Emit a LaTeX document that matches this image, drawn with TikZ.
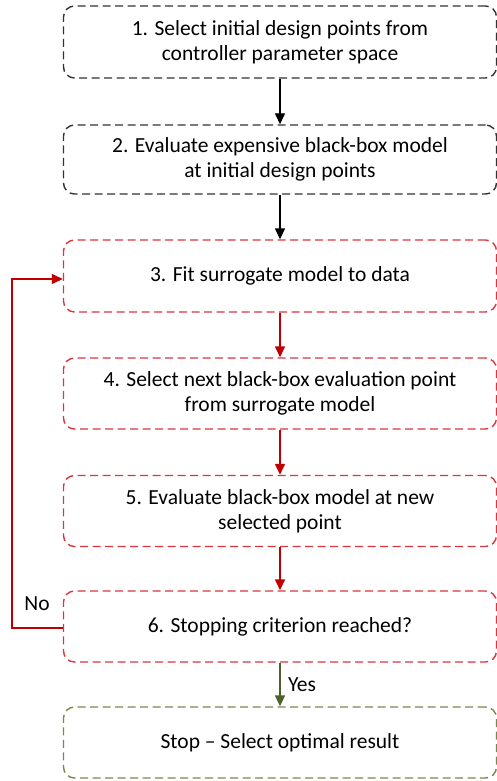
\documentclass[tikz,border=0pt]{standalone}
\usepackage{fontspec}
\setmainfont{Carlito}
\usetikzlibrary{arrows.meta}
\definecolor{boxred}{HTML}{D9363E}
\definecolor{arrred}{HTML}{C00000}
\definecolor{boxgreen}{HTML}{76894A}
\definecolor{arrgreen}{HTML}{4F6228}
\definecolor{boxblack}{HTML}{333333}
\begin{document}
\begin{tikzpicture}[x=1pt,y=-1pt,
  txt/.style={font=\fontsize{21.5}{25}\selectfont, text=black},
  stepbox/.style={line width=1.4pt, dash pattern=on 8pt off 4.5pt, rounded corners=11pt,
    minimum width=433pt, align=center, txt, inner sep=0pt},
  arr/.style={-{Triangle[length=11pt,width=10pt]}, line width=1.4pt}
]
\useasboundingbox (0,0) rectangle (496,781);
\node[stepbox, draw=boxblack, minimum height=72pt] (s1) at (280,42) {1. Select initial design points from\\controller parameter space};
\node[stepbox, draw=boxblack, minimum height=69pt] (s2) at (280,159.5) {2. Evaluate expensive black-box model\\at initial design points};
\node[stepbox, draw=boxred, minimum height=72pt] (s3) at (280,276) {3. Fit surrogate model to data};
\node[stepbox, draw=boxred, minimum height=71pt] (s4) at (280,393.5) {4. Select next black-box evaluation point\\from surrogate model};
\node[stepbox, draw=boxred, minimum height=71pt] (s5) at (280,511) {5. Evaluate black-box model at new\\selected point};
\node[stepbox, draw=boxred, minimum height=71pt] (s6) at (280,626.5) {6. Stopping criterion reached?};
\node[stepbox, draw=boxgreen, minimum height=71pt] (s7) at (280,742.5) {Stop -- Select optimal result};
\draw[arr, black] (s1) -- (s2);
\draw[arr, black] (s2) -- (s3);
\draw[arr, arrred] (s3) -- (s4);
\draw[arr, arrred] (s4) -- (s5);
\draw[arr, arrred] (s5) -- (s6);
\draw[arr, arrgreen] (s6) -- node[right=4pt, txt] (yes) {Yes} (s7);
\coordinate (l1) at (12,628);
\coordinate (l2) at (12,279);
\draw[arr, arrred, rounded corners=0pt] (s6.west |- l1) -- (l1) -- (l2) -- (s3.west |- l2);
\node[txt, anchor=center] (no) at (37,604) {No};
\end{tikzpicture}
\end{document}
